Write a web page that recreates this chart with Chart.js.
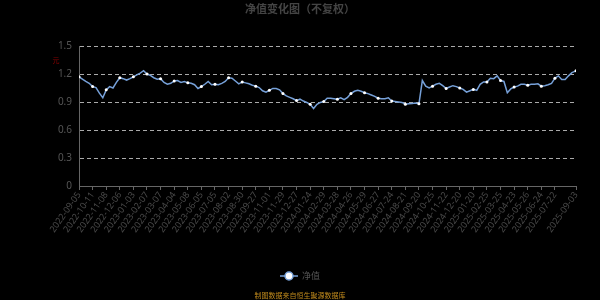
<!DOCTYPE html>
<html>
<head>
<meta charset="utf-8">
<script src="https://cdn.jsdelivr.net/npm/chart.js@4"></script>
<style>
  html, body { margin: 0; padding: 0; background: #000; }
  #wrap { width: 600px; height: 300px; }
</style>
</head>
<body>
<div id="wrap"><canvas id="nav"></canvas></div>
<script>
// trading-day index of each sampled point (0 = 2022-09-05, 731 = 2025-09-03)
const dayIdx = [
  0, 5, 10, 15, 20, 25, 30, 35, 40, 45, 50, 55, 60, 65, 70, 75, 80, 85, 90, 95,
  100, 105, 110, 115, 120, 125, 130, 135, 140, 145, 150, 155, 160, 165, 170, 175, 180, 185, 190, 195,
  200, 205, 210, 215, 220, 225, 230, 235, 240, 245, 250, 255, 260, 265, 270, 275, 280, 285, 290, 295,
  300, 305, 310, 315, 320, 325, 330, 335, 340, 345, 350, 355, 360, 365, 370, 375, 380, 385, 390, 395,
  400, 405, 410, 415, 420, 425, 430, 435, 440, 445, 450, 455, 460, 465, 470, 475, 480, 485, 490, 495,
  500, 505, 510, 515, 520, 525, 530, 535, 540, 545, 550, 555, 560, 565, 570, 575, 580, 585, 590, 595,
  600, 605, 610, 615, 620, 625, 630, 635, 640, 645, 650, 655, 660, 665, 670, 675, 680, 685, 690, 695,
  700, 705, 710, 715, 720, 725, 730, 731
];
const navValues = [
  1.17, 1.145, 1.12, 1.10, 1.065, 1.055, 0.995, 0.945, 1.03, 1.065, 1.05, 1.11, 1.16, 1.15, 1.135, 1.15, 1.17, 1.19, 1.21, 1.235,
  1.20, 1.185, 1.16, 1.145, 1.15, 1.11, 1.09, 1.10, 1.125, 1.13, 1.11, 1.12, 1.105, 1.10, 1.085, 1.045, 1.065, 1.09, 1.12, 1.085,
  1.09, 1.085, 1.10, 1.12, 1.16, 1.155, 1.125, 1.095, 1.115, 1.105, 1.095, 1.08, 1.07, 1.055, 1.02, 1.005, 1.025, 1.045, 1.045, 1.03,
  0.99, 0.965, 0.95, 0.935, 0.915, 0.93, 0.91, 0.895, 0.875, 0.83, 0.875, 0.895, 0.905, 0.94, 0.94, 0.935, 0.93, 0.945, 0.925, 0.95,
  0.99, 1.015, 1.025, 1.015, 1.0, 0.99, 0.975, 0.96, 0.94, 0.935, 0.935, 0.945, 0.91, 0.905, 0.90, 0.895, 0.875, 0.88, 0.885, 0.89,
  0.88, 1.13, 1.07, 1.05, 1.07, 1.09, 1.10, 1.075, 1.045, 1.06, 1.075, 1.065, 1.05, 1.035, 1.005, 1.02, 1.035, 1.025, 1.09, 1.115,
  1.115, 1.155, 1.15, 1.18, 1.13, 1.12, 1.0, 1.04, 1.06, 1.07, 1.09, 1.09, 1.08, 1.09, 1.09, 1.095, 1.07, 1.075, 1.085, 1.10,
  1.155, 1.18, 1.14, 1.14, 1.18, 1.215, 1.23, 1.235
];
const tickIdx = [
  0, 20, 40, 60, 80, 100, 120, 140, 160, 180, 200, 220, 240, 260, 280, 300, 320, 340, 360,
  380, 400, 420, 440, 460, 480, 500, 520, 540, 560, 580, 600, 620, 640, 660, 680, 700, 731
];
const tickLabels = [
  "2022-09-05", "2022-10-11", "2022-11-08", "2022-12-06", "2023-01-03", "2023-02-07", "2023-03-07",
  "2023-04-04", "2023-05-08", "2023-06-05", "2023-07-05", "2023-08-02", "2023-08-30", "2023-09-27",
  "2023-11-01", "2023-11-29", "2023-12-27", "2024-01-24", "2024-02-29", "2024-03-28", "2024-04-26",
  "2024-05-29", "2024-06-27", "2024-07-24", "2024-08-21", "2024-09-20", "2024-10-25", "2024-11-22",
  "2024-12-20", "2025-01-20", "2025-02-25", "2025-03-25", "2025-04-23", "2025-05-26", "2025-06-24",
  "2025-07-22", "2025-09-03"
];
const yTicks = [0, 0.3, 0.6, 0.9, 1.2, 1.5];

const LINE_COLOR = "#76a0d8";
const FONT = "'Noto Sans', 'Noto Sans CJK SC', sans-serif";

const bgPlugin = {
  id: "bg",
  beforeDraw(chart) {
    const c = chart.ctx;
    c.save();
    c.fillStyle = "#000";
    c.fillRect(0, 0, chart.width, chart.height);
    c.restore();
  },
  afterDraw(chart) {
    const c = chart.ctx;
    c.save();
    c.textAlign = "center";
    c.textBaseline = "middle";
    // title
    c.fillStyle = "#444";
    c.font = "bold 11px 'Noto Sans CJK SC', sans-serif";
    c.fillText("净值变化图（不复权）", 300, 9);
    // unit
    c.fillStyle = "#8b0000";
    c.font = "7px 'Noto Sans CJK SC', sans-serif";
    c.fillText("元", 56, 60);
    // legend
    c.strokeStyle = LINE_COLOR;
    c.lineWidth = 1.5;
    c.beginPath();
    c.moveTo(280, 276);
    c.lineTo(298, 276);
    c.stroke();
    c.beginPath();
    c.arc(289, 276, 4, 0, Math.PI * 2);
    c.fillStyle = "#fff";
    c.fill();
    c.stroke();
    c.textAlign = "left";
    c.fillStyle = "#555";
    c.font = "9px 'Noto Sans CJK SC', sans-serif";
    c.fillText("净值", 302, 276);
    // source note
    c.textAlign = "center";
    c.fillStyle = "#c08a1c";
    c.font = "7px 'Noto Sans CJK SC', sans-serif";
    c.fillText("制图数据来自恒生聚源数据库", 300, 295);
    c.restore();
  },
};

new Chart(document.getElementById("nav"), {
  type: "line",
  data: {
    datasets: [{
      label: "净值",
      data: dayIdx.map((d, i) => ({ x: d, y: navValues[i] })),
      borderColor: LINE_COLOR,
      borderWidth: 1.5,
      tension: 0,
      pointRadius: (ctx) => (tickIdx.includes(dayIdx[ctx.dataIndex]) ? 1.5 : 0),
      pointBackgroundColor: "#fff",
      pointBorderWidth: 0,
    }],
  },
  options: {
    responsive: true,
    maintainAspectRatio: false,
    animation: false,
    layout: { padding: { top: 46, right: 24, bottom: 44, left: 0 } },
    plugins: {
      legend: { display: false },
      title: { display: false },
      tooltip: { enabled: false },
    },
    scales: {
      x: {
        type: "linear",
        min: 0,
        max: 731,
        afterFit: (s) => { s.height = 70; },
        afterBuildTicks: (s) => { s.ticks = tickIdx.map((v) => ({ value: v })); },
        border: { display: true, color: "#666" },
        grid: { drawOnChartArea: false, drawTicks: true, tickLength: 4, color: "#666" },
        ticks: {
          autoSkip: false,
          maxRotation: 55,
          minRotation: 55,
          padding: 0,
          color: "#4a4a4a",
          font: { family: FONT, size: 9 },
          callback: (v) => tickLabels[tickIdx.indexOf(v)] || "",
        },
      },
      y: {
        min: 0,
        max: 1.5,
        afterFit: (s) => { s.width = 79; },
        afterBuildTicks: (s) => { s.ticks = yTicks.map((v) => ({ value: v })); },
        border: { display: true, color: "#666", dash: [4, 3] },
        grid: {
          drawTicks: false,
          color: (ctx) => (ctx.tick && ctx.tick.value === 0 ? "rgba(0,0,0,0)" : "#aaa"),
        },
        ticks: {
          padding: 7,
          color: "#555",
          font: { family: FONT, size: 10 },
          callback: (v) => String(v),
        },
      },
    },
  },
  plugins: [bgPlugin],
});
</script>
</body>
</html>
